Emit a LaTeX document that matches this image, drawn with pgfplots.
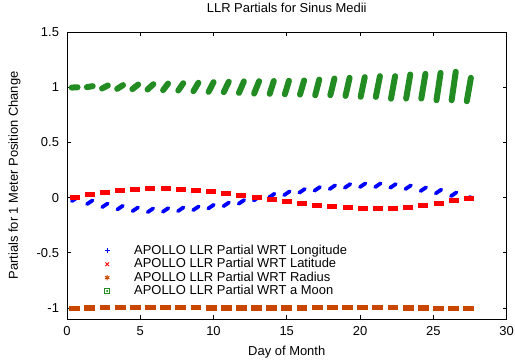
\documentclass[border=0pt]{standalone}
\usepackage{pgfplots}
\pgfplotsset{compat=1.18}
\usepackage{fontspec}
\setmainfont{Liberation Sans}
\definecolor{cblue}{RGB}{0,0,255}
\definecolor{cred}{RGB}{255,0,0}
\definecolor{corange}{RGB}{200,70,0}
\definecolor{cgreen}{RGB}{34,139,34}
\newcommand\myf{\fontsize{13}{15}\selectfont}
\pgfplotsset{
  legimg/.style 2 args={legend image code/.code={\draw[color=#1, draw=#1, line width=1bp, mark=#2, mark size=2.6bp, only marks, mark options={color=#1, draw=#1, fill=#1, line width=1bp}] plot coordinates {(0.35cm,0cm)}; \path[draw=none, fill=none] (0cm,0cm) -- (1.3cm,0cm);}},
  legimgsq/.style={legend image code/.code={\draw[color=cgreen, draw=cgreen, line width=1bp, mark=square, mark size=2.3bp, only marks, mark options={color=cgreen, draw=cgreen, line width=1bp}] plot coordinates {(0.35cm,0cm)}; \fill[cgreen] (0.35cm,0cm) circle (0.8bp); \path[draw=none, fill=none] (0cm,0cm) -- (1.3cm,0cm);}}
}
\begin{document}
\begin{tikzpicture}
\begin{axis}[
  scale only axis, width=439.5bp, height=287bp,
  xmin=0, xmax=30, ymin=-1.1, ymax=1.5,
  xtick={0,5,...,30}, ytick={-1,-0.5,0,0.5,1,1.5},
  tick align=inside, major tick length=4bp,
  axis line style={black, line width=0.8bp},
  tick style={black, line width=0.6bp},
  /pgf/number format/assume math mode=true,
  tick label style={font=\myf},
  yticklabel style={xshift=-4.5bp},
  xticklabel style={yshift=-3.7bp},
  title={LLR Partials for Sinus Medii},
  title style={font=\myf, at={(axis description cs:0.5,1)}, anchor=base, yshift=14bp},
  xlabel={Day of Month},
  xlabel style={font=\myf, at={(axis description cs:0.5,0)}, anchor=base, yshift=-36.7bp},
  ylabel={Partials for 1 Meter Position Change},
  ylabel style={font=\myf, at={(axis description cs:-0.1115,0.5)}, anchor=base},
  legend style={draw=none, fill=none, inner sep=0pt, at={(axis description cs:0.0685,0.259)}, anchor=north west, font=\myf, nodes={inner sep=0pt, text height=9.5bp, text depth=2.5bp}, row sep=1.4bp, column sep=0pt},
  legend cell align=left,
]
% Longitude
\addplot[cblue, line width=3.8bp, line cap=round, quiver={u=\thisrow{u},v=\thisrow{v}}, forget plot] table {
x y u v
0.33 -0.032 0.38 0.034
1.365 -0.059 0.38 0.034
2.40 -0.087 0.38 0.034
3.435 -0.108 0.38 0.034
4.47 -0.123 0.38 0.034
5.505 -0.132 0.38 0.034
6.54 -0.129 0.38 0.034
7.575 -0.123 0.38 0.034
8.61 -0.114 0.38 0.034
9.645 -0.099 0.38 0.034
10.68 -0.078 0.38 0.034
11.715 -0.056 0.38 0.034
12.75 -0.026 0.38 0.034
13.785 0.001 0.38 0.034
14.82 0.022 0.38 0.034
15.855 0.044 0.38 0.034
16.89 0.062 0.38 0.034
17.925 0.077 0.38 0.034
18.96 0.089 0.38 0.034
19.995 0.095 0.38 0.034
21.03 0.095 0.38 0.034
22.065 0.089 0.38 0.034
23.10 0.077 0.38 0.034
24.135 0.059 0.38 0.034
25.17 0.038 0.38 0.034
26.205 0.013 0.38 0.034
27.30 -0.012 0.26 0.018
};
% Latitude
\addplot[cred, line width=5bp, quiver={u=\thisrow{u},v=\thisrow{v}}, forget plot] table {
x y u v
0.18 0.000 0.68 0
1.215 0.027 0.68 0
2.25 0.045 0.68 0
3.285 0.062 0.68 0
4.32 0.073 0.68 0
5.355 0.081 0.68 0
6.39 0.082 0.68 0
7.425 0.077 0.68 0
8.46 0.068 0.68 0
9.495 0.055 0.68 0
10.53 0.037 0.68 0
11.565 0.016 0.68 0
12.60 -0.003 0.68 0
13.635 -0.021 0.68 0
14.67 -0.039 0.68 0
15.705 -0.057 0.68 0
16.74 -0.072 0.68 0
17.775 -0.083 0.68 0
18.81 -0.093 0.68 0
19.845 -0.100 0.68 0
20.88 -0.102 0.68 0
21.915 -0.099 0.68 0
22.95 -0.088 0.68 0
23.985 -0.073 0.68 0
25.02 -0.052 0.68 0
26.055 -0.028 0.68 0
27.09 -0.005 0.68 0
};
% Radius
\addplot[corange, line width=5.5bp, quiver={u=\thisrow{u},v=\thisrow{v}}, forget plot] table {
x y u v
0.15 -1.004 0.74 0
1.185 -1.001 0.74 0
2.22 -0.998 0.74 0
3.255 -0.996 0.74 0
4.29 -0.995 0.74 0
5.325 -0.995 0.74 0
6.36 -0.996 0.74 0
7.395 -0.997 0.74 0
8.43 -0.998 0.74 0
9.465 -1.000 0.74 0
10.50 -1.001 0.74 0
11.535 -1.002 0.74 0
12.57 -1.002 0.74 0
13.605 -1.001 0.74 0
14.64 -1.000 0.74 0
15.675 -0.999 0.74 0
16.71 -0.997 0.74 0
17.745 -0.996 0.74 0
18.78 -0.995 0.74 0
19.815 -0.995 0.74 0
20.85 -0.996 0.74 0
21.885 -0.998 0.74 0
22.92 -1.000 0.74 0
23.955 -1.002 0.74 0
24.99 -1.003 0.74 0
26.025 -1.004 0.74 0
27.06 -1.004 0.74 0
};
% a Moon
\addplot[cgreen, line width=6bp, line cap=round, quiver={u=\thisrow{u},v=\thisrow{v}}, forget plot] table {
x y u v
0.32 0.9965 0.40 0.003
1.355 1.0005 0.40 0.009
2.39 0.988 0.40 0.028
3.425 0.985 0.40 0.034
4.46 0.982 0.40 0.042
5.495 0.979 0.40 0.048
6.56 0.973 0.34 0.060
7.595 0.970 0.34 0.066
8.63 0.964 0.34 0.076
9.665 0.958 0.34 0.088
10.70 0.955 0.34 0.094
11.735 0.948 0.34 0.104
12.77 0.942 0.34 0.112
13.835 0.940 0.28 0.116
14.87 0.936 0.28 0.122
15.905 0.933 0.28 0.128
16.94 0.927 0.28 0.142
17.975 0.927 0.28 0.152
19.01 0.921 0.28 0.164
20.045 0.913 0.28 0.178
21.08 0.912 0.28 0.188
22.115 0.896 0.28 0.204
23.15 0.897 0.28 0.218
24.185 0.897 0.28 0.224
25.22 0.882 0.28 0.248
26.255 0.882 0.28 0.258
27.29 0.873 0.28 0.212
};
\addlegendimage{legimg={cblue}{+}}
\addlegendentry{APOLLO LLR Partial WRT Longitude}
\addlegendimage{legimg={cred}{x}}
\addlegendentry{APOLLO LLR Partial WRT Latitude}
\addlegendimage{legimg={corange}{asterisk}}
\addlegendentry{APOLLO LLR Partial WRT Radius}
\addlegendimage{legimgsq}
\addlegendentry{APOLLO LLR Partial WRT a Moon}
\end{axis}
\pgfresetboundingbox
\path ([shift={(-67bp,-43bp)}]current axis.south west) rectangle ([shift={(8.5bp,32bp)}]current axis.north east);
\end{tikzpicture}
\end{document}
